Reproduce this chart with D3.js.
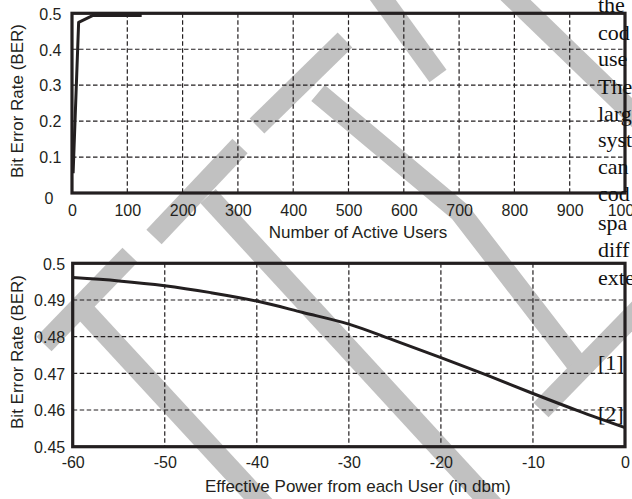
<!DOCTYPE html>
<html><head><meta charset="utf-8">
<script src="https://cdn.jsdelivr.net/npm/d3@7"></script>
<style>
html,body{margin:0;padding:0;background:#fff;overflow:hidden}
svg{display:block;background:#fff}
</style></head><body>
<svg id="c" width="632" height="499"></svg>
<script>
// ---- data ----
const users = [2, 12, 38, 126];
const berUsers = [0.055, 0.475, 0.494, 0.494];
const userTicks = [0, 100, 200, 300, 400, 500, 600, 700, 800, 900, 1000];
const berTicksTop = [0, 0.1, 0.2, 0.3, 0.4, 0.5];

const power = [-60, -55, -50, -45, -40, -35, -30, -25, -20, -15, -10, -5, 0];
const berPower = [0.4961, 0.4952, 0.4939, 0.4920, 0.4897, 0.4866, 0.4834, 0.4789, 0.4743, 0.4695, 0.4645, 0.4597, 0.4552];
const powerTicks = [-60, -50, -40, -30, -20, -10, 0];
const berTicksBottom = [0.45, 0.46, 0.47, 0.48, 0.49, 0.5];

const sideWords = ["the", "cod", "use", "The", "larg", "syst", "can", "cod", "spa", "diff", "exte"];
const sideRefs = ["[1]", "[2]"];

// ---- decoration: scanned-page watermark stripes ----
const watermark = [
  [[44,344],[130,255]],
  [[80,306],[270,512]],
  [[154,237],[240,146]],
  [[208,196],[495,508]],
  [[257,126],[345,40]],
  [[318,93],[460,212],[580,368]],
  [[372,-15],[438,76]],
  [[500,-15],[650,130]],
  [[541,410],[650,298]]
];

const svg = d3.select("#c");
const ink = "#231f20";
const sans = "'Liberation Sans', Arial, sans-serif";

svg.append("g").selectAll("path").data(watermark).join("path")
  .attr("d", d => d3.line()(d))
  .attr("fill", "none").attr("stroke", "#c1c1c1")
  .attr("stroke-width", 21).attr("stroke-linecap", "butt").attr("stroke-linejoin", "miter");

function panel(o) {
  const x = d3.scaleLinear().domain(o.xDomain).range([o.left, o.right]);
  const y = d3.scaleLinear().domain(o.yDomain).range([o.bottom, o.top]);
  const g = svg.append("g");
  // grid
  g.append("g").selectAll("line").data(o.xTicks.slice(1, -1)).join("line")
    .attr("x1", d => x(d)).attr("x2", d => x(d)).attr("y1", o.top).attr("y2", o.bottom)
    .attr("stroke", ink).attr("stroke-width", 1.2).attr("stroke-dasharray", "4.5,2.5");
  g.append("g").selectAll("line").data(o.yTicks.slice(1, -1)).join("line")
    .attr("y1", d => y(d)).attr("y2", d => y(d)).attr("x1", o.left).attr("x2", o.right)
    .attr("stroke", ink).attr("stroke-width", 1.2).attr("stroke-dasharray", "4.5,2.5");
  // data line
  g.append("path").datum(o.xs.map((v, i) => [v, o.ys[i]]))
    .attr("d", d3.line().x(d => x(d[0])).y(d => y(d[1])).curve(o.curve))
    .attr("fill", "none").attr("stroke", ink).attr("stroke-width", 3).attr("stroke-linejoin", "round");
  // frame
  g.append("rect").attr("x", o.left).attr("y", o.top)
    .attr("width", o.right - o.left).attr("height", o.bottom - o.top)
    .attr("fill", "none").attr("stroke", ink).attr("stroke-width", 3.2);
  // axes
  const ax = g.append("g").attr("transform", `translate(0,${o.bottom})`)
    .call(d3.axisBottom(x).tickValues(o.xTicks).tickSize(0).tickPadding(o.xPad).tickFormat(o.xFmt));
  const ay = g.append("g").attr("transform", `translate(${o.left},0)`)
    .call(d3.axisLeft(y).tickValues(o.yTicks).tickSize(0).tickPadding(o.yPad).tickFormat(o.yFmt));
  [ax, ay].forEach(a => {
    a.select(".domain").remove();
    a.selectAll("text").attr("fill", ink).style("font-family", sans).style("font-size", "16px");
  });
  ay.selectAll("text").attr("dy", "0.36em");
  if (o.zeroShift) {
    ay.selectAll(".tick").filter(d => d === 0).select("text")
      .attr("transform", "translate(-8,5)");
  }
  // titles
  g.append("text").attr("x", (o.left + o.right) / 2 + o.xTitleDx).attr("y", o.xTitleY)
    .attr("text-anchor", "middle").attr("fill", ink)
    .style("font-family", sans).style("font-size", "17px").text(o.xTitle);
  g.append("text").attr("transform", `translate(${o.yTitleX},${o.yTitleCy}) rotate(-90)`)
    .attr("text-anchor", "middle").attr("dy", "0.35em").attr("fill", ink)
    .style("font-family", sans).style("font-size", "17px").text(o.yTitle);
}

const plainInt = d => String(d);   // hyphen-minus, as in the scan

panel({
  xDomain: [0, 1000], yDomain: [0, 0.5],
  left: 72, right: 625, top: 13.3, bottom: 193,
  xTicks: userTicks, yTicks: berTicksTop,
  xFmt: plainInt, yFmt: d => d === 0 ? "0" : d3.format(".1f")(d),
  xPad: 12, yPad: 10.5, zeroShift: true,
  xs: users, ys: berUsers, curve: d3.curveLinear,
  xTitle: "Number of Active Users", xTitleY: 238, xTitleDx: 9.5,
  yTitle: "Bit Error Rate (BER)", yTitleX: 17, yTitleCy: 101
});

panel({
  xDomain: [-60, 0], yDomain: [0.45, 0.5],
  left: 72.7, right: 625, top: 263.3, bottom: 446.7,
  xTicks: powerTicks, yTicks: berTicksBottom,
  xFmt: plainInt, yFmt: d => d === 0.5 ? "0.5" : d3.format(".2f")(d),
  xPad: 10, yPad: 7.5, zeroShift: false,
  xs: power, ys: berPower, curve: d3.curveMonotoneX,
  xTitle: "Effective Power from each User (in dbm)", xTitleY: 492, xTitleDx: 9,
  yTitle: "Bit Error Rate (BER)", yTitleX: 17, yTitleCy: 352
});

// text column of the scanned page
const serif = "'Liberation Serif', 'Times New Roman', serif";
const wordBase = [12, 40, 66, 94, 121, 147, 174, 201, 230, 257, 285];
svg.append("g").selectAll("text").data(sideWords).join("text")
  .attr("x", 598).attr("y", (d, i) => wordBase[i])
  .attr("fill", "#111").style("font-family", serif).style("font-size", "22px").text(d => d);
const refBase = [370, 421];
svg.append("g").selectAll("text").data(sideRefs).join("text")
  .attr("x", 598).attr("y", (d, i) => refBase[i])
  .attr("fill", "#111").style("font-family", serif).style("font-size", "22px").text(d => d);
</script>
</body></html>
